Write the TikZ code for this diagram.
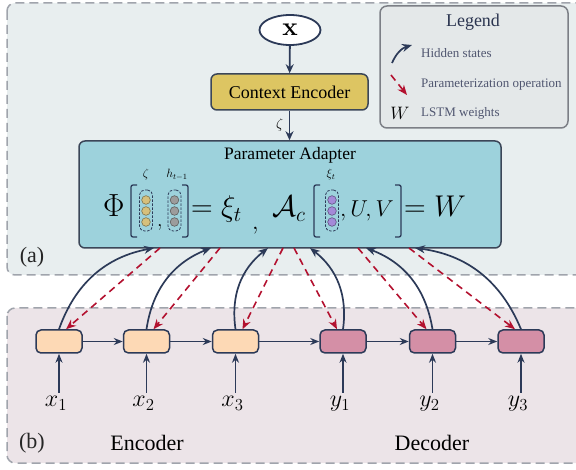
\RequirePackage{fix-cm}
\documentclass[tikz,border=0pt]{standalone}
\usepackage[no-math]{fontspec}
\setmainfont{Liberation Serif}
\usetikzlibrary{arrows.meta,shapes.geometric}
\definecolor{navy}{HTML}{2C3A58}
\definecolor{boxline}{HTML}{3B4658}
\definecolor{paramred}{HTML}{B3112F}
\definecolor{panelA}{HTML}{E8EEEF}
\definecolor{panelB}{HTML}{ECE4E8}
\definecolor{panelline}{HTML}{A0A4AC}
\definecolor{legendfill}{HTML}{E4E8E9}
\definecolor{legendline}{HTML}{7C7F86}
\definecolor{legendhead}{HTML}{2B3550}
\definecolor{legendtext}{HTML}{505670}
\definecolor{ctxfill}{HTML}{DDC562}
\definecolor{adapterfill}{HTML}{9DD2DC}
\definecolor{encfill}{HTML}{FDD9B5}
\definecolor{decfill}{HTML}{D48FA6}
\definecolor{zetadot}{HTML}{D6C07C}
\definecolor{hdot}{HTML}{9C9C9C}
\definecolor{xidot}{HTML}{A48AD8}
\newcommand{\fs}[1]{\fontsize{#1}{#1}\selectfont}
\tikzset{
  panel/.style={draw=panelline,line width=1.5pt,dash pattern=on 9pt off 5pt,rounded corners=8pt},
  tag/.style={font=\fs{22},text=black!85},
  block/.style={draw=boxline,line width=1.5pt,rounded corners=6pt},
  cell/.style={draw=navy,line width=1.5pt,rounded corners=5pt,minimum width=46pt,minimum height=23pt,inner sep=0pt},
  flow/.style={draw=navy,line width=1.8pt,-{Stealth[length=9pt,width=8pt]}},
  link/.style={draw=navy,line width=1.6pt,-{Stealth[length=9pt,width=7pt]}},
  hidden/.style={draw=navy,line width=1.7pt,-{Stealth[length=10pt,width=8pt]}},
  param/.style={draw=paramred,line width=1.6pt,dash pattern=on 7pt off 5pt,-{Stealth[length=10pt,width=8pt]}},
  legenditem/.style={anchor=west,inner sep=0pt,font=\fs{13},text=legendtext},
  eq/.style={anchor=base west,inner sep=0pt},
  brack/.style={draw=navy,line width=1.3pt,rounded corners=2pt},
  dotcol/.style={draw=navy,line width=0.8pt,dash pattern=on 2.5pt off 1.5pt,rounded corners=5pt,minimum width=13pt,minimum height=41pt,inner sep=0pt},
  dot/.style={circle,draw=#1!60!black,fill=#1,line width=0.6pt,minimum size=8.6pt,inner sep=0pt}
}
\begin{document}
\begin{tikzpicture}[x=1pt,y=-1pt]
    %% Canvas
    \useasboundingbox (0,0) rectangle (576,470);
    \clip (0,0) rectangle (576,470);
    %% Panels
    \draw[panel,fill=panelA] (7,3) rectangle (600,275);
    \draw[panel,fill=panelB] (7,308) rectangle (600,463);
    \node[tag] (taga) at (32,257) {(a)};
    \node[tag] (tagb) at (32,443) {(b)};
    %% Context path
    \node[ellipse,draw=navy,line width=1.8pt,fill=white,minimum width=61pt,minimum height=30pt,inner sep=0pt,font=\fs{26}] (xin) at (290,30) {$\mathbf{x}$};
    \node[block,fill=ctxfill,minimum width=157pt,minimum height=36pt,font=\fs{18}] (ctx) at (289.5,92) {Context Encoder};
    \node[block,fill=adapterfill,minimum width=422pt,minimum height=107pt] (adapter) at (290,194.5) {};
    \node[font=\fs{17.5}] (adtitle) at (290,155) {Parameter Adapter};
    \draw[flow] (xin) -- (ctx);
    \draw[flow] (ctx.south) -- node[left=2pt,font=\fs{14}] (zetaarr) {$\zeta$} (ctx.south |- adapter.north);
    %% Legend
    \node[fill=legendfill,draw=legendline,line width=1.5pt,rounded corners=7pt,minimum width=188pt,minimum height=122pt] (legend) at (474,67) {};
    \node[font=\fs{18},text=legendhead] (lgtitle) at (473,22) {Legend};
    \coordinate (lgh1) at (392,63);
    \coordinate (lgh2) at (412,45);
    \draw[hidden] (lgh1) to[bend left=25] (lgh2);
    \coordinate (lgp1) at (391,75);
    \coordinate (lgp2) at (407,95);
    \draw[param] (lgp1) -- (lgp2);
    \node[legenditem] (lghid) at (421,53) {Hidden states};
    \node[legenditem] (lgpar) at (421,85) {Parameterization operation};
    \node[font=\fs{18}] (lgw) at (400,113) {$W$};
    \node[legenditem] (lgwt) at (421,113) {LSTM weights};
    %% Formula
    \node[eq,font=\fs{32}] (phi) at (103,217) {$\Phi$};
    \draw[brack] (137,185) -- (131,185) -- (131,237) -- (137,237);
    \draw[brack] (182,185) -- (188,185) -- (188,237) -- (182,237);
    \node[dotcol] (colz) at (146,210.5) {};
    \node[dotcol] (colh) at (174.5,210.5) {};
    \foreach \y [count=\i] in {200,211,222} {
        \node[dot=zetadot] (z\i) at (146,\y) {};
        \node[dot=hdot] (h\i) at (174.5,\y) {};
        \node[dot=xidot] (xi\i) at (332,\y) {};
    }
    \node[eq,font=\fs{20}] (comma1) at (157,227) {$,$};
    \node[font=\fs{12}] (lbz) at (146,175) {$\zeta$};
    \node[font=\fs{12}] (lbh) at (177,175) {$h_{t-1}$};
    \node[eq,font=\fs{30}] (eqxi) at (191,217) {$=\xi_t$};
    \node[eq,font=\fs{24}] (comma2) at (252,230) {$,$};
    \node[eq,font=\fs{30}] (calA) at (272,217) {$\mathcal{A}_c$};
    \draw[brack] (320,185) -- (314,185) -- (314,237) -- (320,237);
    \node[dotcol] (colxi) at (332,210.5) {};
    \node[font=\fs{12}] (lbxi) at (331,175) {$\xi_t$};
    \node[eq,font=\fs{23}] (uv) at (340,217) {$,U,V$};
    \draw[brack] (395,185) -- (401,185) -- (401,237) -- (395,237);
    \node[eq,font=\fs{30}] (eqw) at (404,217) {$=W$};
    %% Encoder / decoder cells
    \foreach \n/\cx/\fc/\lb in {e1/59/encfill/x_1, e2/146.5/encfill/x_2, e3/235.5/encfill/x_3,
                                d1/343/decfill/y_1, d2/432.5/decfill/y_2, d3/521/decfill/y_3} {
        \node[cell,fill=\fc] (\n) at (\cx,341.5) {};
        \node[anchor=north,font=\fs{24}] (in\n) at (\cx-3,393) {$\lb$};
        \draw[link] (in\n.north -| \n) -- (\n);
    }
    \draw[link] (e1) -- (e2);
    \draw[link] (e2) -- (e3);
    \draw[link] (e3) -- (d1);
    \draw[link] (d1) -- (d2);
    \draw[link] (d2) -- (d3);
    \node[font=\fs{22}] (enclabel) at (147,443) {Encoder};
    \node[font=\fs{22}] (declabel) at (432,443) {Decoder};
    %% Hidden states and parameterization
    \foreach \n/\hx/\px in {e1/154/160, e2/211/220, e3/268/283} {
        \coordinate (hs\n) at (\hx,248);
        \coordinate (pa\n) at (\px,248);
        \draw[hidden] (\n.north) to[bend left=30] (hs\n);
        \draw[param] (pa\n) -- ([xshift=7pt]\n.north);
    }
    \foreach \n/\hx/\px in {d1/310/294, d2/366/358, d3/415/409} {
        \coordinate (hs\n) at (\hx,248);
        \coordinate (pa\n) at (\px,248);
        \draw[hidden] (\n.north) to[bend right=30] (hs\n);
        \draw[param] (pa\n) -- ([xshift=-6pt]\n.north);
    }
\end{tikzpicture}
\end{document}
